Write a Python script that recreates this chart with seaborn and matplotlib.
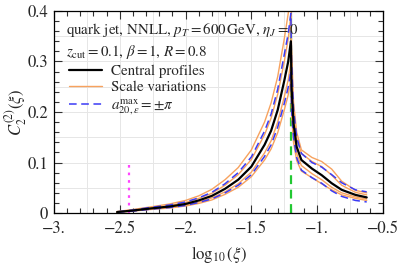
import numpy as np
import pandas as pd
import matplotlib
matplotlib.use("Agg")
import matplotlib.pyplot as plt
import seaborn as sns
from matplotlib.lines import Line2D
from matplotlib.ticker import MultipleLocator, FixedLocator, FixedFormatter

# log10(xi) grid
log_xi = [-2.52, -2.4, -2.27, -2.12, -2.0, -1.9, -1.8, -1.7, -1.6, -1.5, -1.4, -1.35, -1.3,
          -1.25, -1.22, -1.2, -1.195, -1.18, -1.156, -1.12, -1.04, -0.966, -0.89, -0.814, -0.71, -0.624]

central = [0.002, 0.005, 0.009, 0.013, 0.018, 0.025, 0.034, 0.048, 0.066, 0.092, 0.135, 0.163, 0.204,
           0.262, 0.300, 0.340, 0.250, 0.178, 0.131, 0.105, 0.088, 0.075, 0.059, 0.046, 0.036, 0.031]

scale_up_outer = [0.003, 0.007, 0.012, 0.018, 0.025, 0.034, 0.047, 0.066, 0.090, 0.125, 0.180, 0.218, 0.270,
                  0.345, 0.395, 0.440, 0.330, 0.220, 0.160, 0.125, 0.110, 0.102, 0.087, 0.063, 0.045, 0.040]
scale_up_inner = [0.0023, 0.006, 0.010, 0.015, 0.021, 0.029, 0.039, 0.055, 0.076, 0.106, 0.155, 0.188, 0.235,
                  0.300, 0.345, 0.390, 0.290, 0.200, 0.148, 0.118, 0.102, 0.092, 0.075, 0.055, 0.041, 0.036]
scale_dn_inner = [0.0017, 0.0044, 0.008, 0.0115, 0.016, 0.022, 0.030, 0.042, 0.058, 0.081, 0.119, 0.143, 0.180,
                  0.230, 0.264, 0.300, 0.220, 0.160, 0.118, 0.094, 0.078, 0.066, 0.051, 0.040, 0.032, 0.028]
scale_dn_outer = [0.0015, 0.004, 0.007, 0.010, 0.014, 0.019, 0.026, 0.037, 0.051, 0.072, 0.105, 0.127, 0.159,
                  0.204, 0.234, 0.265, 0.195, 0.140, 0.104, 0.083, 0.070, 0.058, 0.046, 0.036, 0.029, 0.025]

a20_plus = [0.0024, 0.006, 0.011, 0.016, 0.022, 0.030, 0.041, 0.058, 0.080, 0.111, 0.162, 0.196, 0.245,
            0.314, 0.355, 0.395, 0.300, 0.205, 0.150, 0.118, 0.100, 0.091, 0.076, 0.060, 0.046, 0.042]
a20_minus = [0.0016, 0.004, 0.0075, 0.011, 0.015, 0.021, 0.028, 0.040, 0.055, 0.076, 0.112, 0.135, 0.170,
             0.217, 0.249, 0.282, 0.205, 0.150, 0.110, 0.085, 0.070, 0.059, 0.044, 0.033, 0.025, 0.022]

peak_pos = -1.2
low_pos = -2.43
low_height = 0.1

x_ticks = [-3.0, -2.5, -2.0, -1.5, -1.0, -0.5]
x_labels = ["\u22123.", "\u22122.5", "\u22122.", "\u22121.5", "\u22121.", "\u22120.5"]
y_ticks = [0.0, 0.1, 0.2, 0.3, 0.4]
y_labels = ["0", "0.1", "0.2", "0.3", "0.4"]

sns.set_style("ticks")
plt.rcParams['font.family'] = ['STIXGeneral', 'DejaVu Serif']
plt.rcParams['mathtext.fontset'] = 'stix'

orange = '#f7a25e'
blue = '#3b3bf5'

fig = plt.figure(figsize=(3.99, 2.66), dpi=100)
ax = fig.add_axes([0.135, 0.199, 0.825, 0.760])

ax.axvline(peak_pos, color='#22c832', ls=(0, (4, 2.5)), lw=1.6, zorder=1)
ax.plot([low_pos, low_pos], [0, low_height], color='#ff44ff', ls=(0, (1.2, 2.2)), lw=1.6, zorder=1)

for ys in [scale_up_outer, scale_up_inner, scale_dn_inner, scale_dn_outer]:
    sns.lineplot(x=log_xi, y=ys, ax=ax, color=orange, lw=1.0, sort=False, zorder=2)
for ys in [a20_plus, a20_minus]:
    sns.lineplot(x=log_xi, y=ys, ax=ax, color=blue, lw=1.1, sort=False, zorder=3,
                 linestyle=(0, (5, 3)))
sns.lineplot(x=log_xi, y=central, ax=ax, color='black', lw=1.6, sort=False, zorder=4)

ax.set_xlim(-3.0, -0.5)
ax.set_ylim(0, 0.4)

ax.xaxis.set_major_locator(FixedLocator(x_ticks))
ax.xaxis.set_major_formatter(FixedFormatter(x_labels))
ax.xaxis.set_minor_locator(MultipleLocator(0.1))
ax.yaxis.set_major_locator(FixedLocator(y_ticks))
ax.yaxis.set_major_formatter(FixedFormatter(y_labels))
ax.yaxis.set_minor_locator(MultipleLocator(0.02))
ax.tick_params(which='both', direction='in', top=True, right=True, color='#333333', width=0.8)
ax.tick_params(which='major', length=6, labelsize=12)
ax.tick_params(axis='x', which='major', pad=6)
ax.tick_params(axis='y', which='major', pad=4)
ax.tick_params(which='minor', length=3.5)

for v in np.arange(-2.75, -0.5, 0.25):
    ax.axvline(v, color='#e6e6e6', lw=0.7, zorder=0)
for v in np.arange(0.05, 0.4, 0.05):
    ax.axhline(v, color='#e6e6e6', lw=0.7, zorder=0)

for s in ax.spines.values():
    s.set_linewidth(0.9)
    s.set_color('black')

ax.set_xlabel(r'$\log_{10}(\xi)$', fontsize=12, labelpad=5)
ax.set_ylabel(r'$C_2^{(2)}(\xi)$', fontsize=12)
ax.yaxis.set_label_coords(-0.075, 0.5)

ax.text(0.036, 0.906, r'quark jet, NNLL, $p_T = 600\,\mathrm{GeV}$, $\eta_J = 0$', transform=ax.transAxes,
        fontsize=10.8, va='center', ha='left', zorder=5)
ax.text(0.036, 0.797, r'$z_{\mathrm{cut}} = 0.1$, $\beta = 1$, $R = 0.8$', transform=ax.transAxes,
        fontsize=10.8, va='center', ha='left', zorder=5)

handles = [Line2D([], [], color='black', lw=1.6),
           Line2D([], [], color=orange, lw=1.0),
           Line2D([], [], color=blue, lw=1.1, ls=(0, (5, 3)))]
labels = ['Central profiles', 'Scale variations', r'$a_{20,\varepsilon}^{\max} = \pm\pi$']
ax.legend(handles, labels, loc='upper left', bbox_to_anchor=(0.045, 0.735), frameon=False,
          fontsize=10.8, handlelength=2.2, handletextpad=0.6, borderpad=0, borderaxespad=0,
          labelspacing=0.2)

fig.savefig('out.png', dpi=100)
